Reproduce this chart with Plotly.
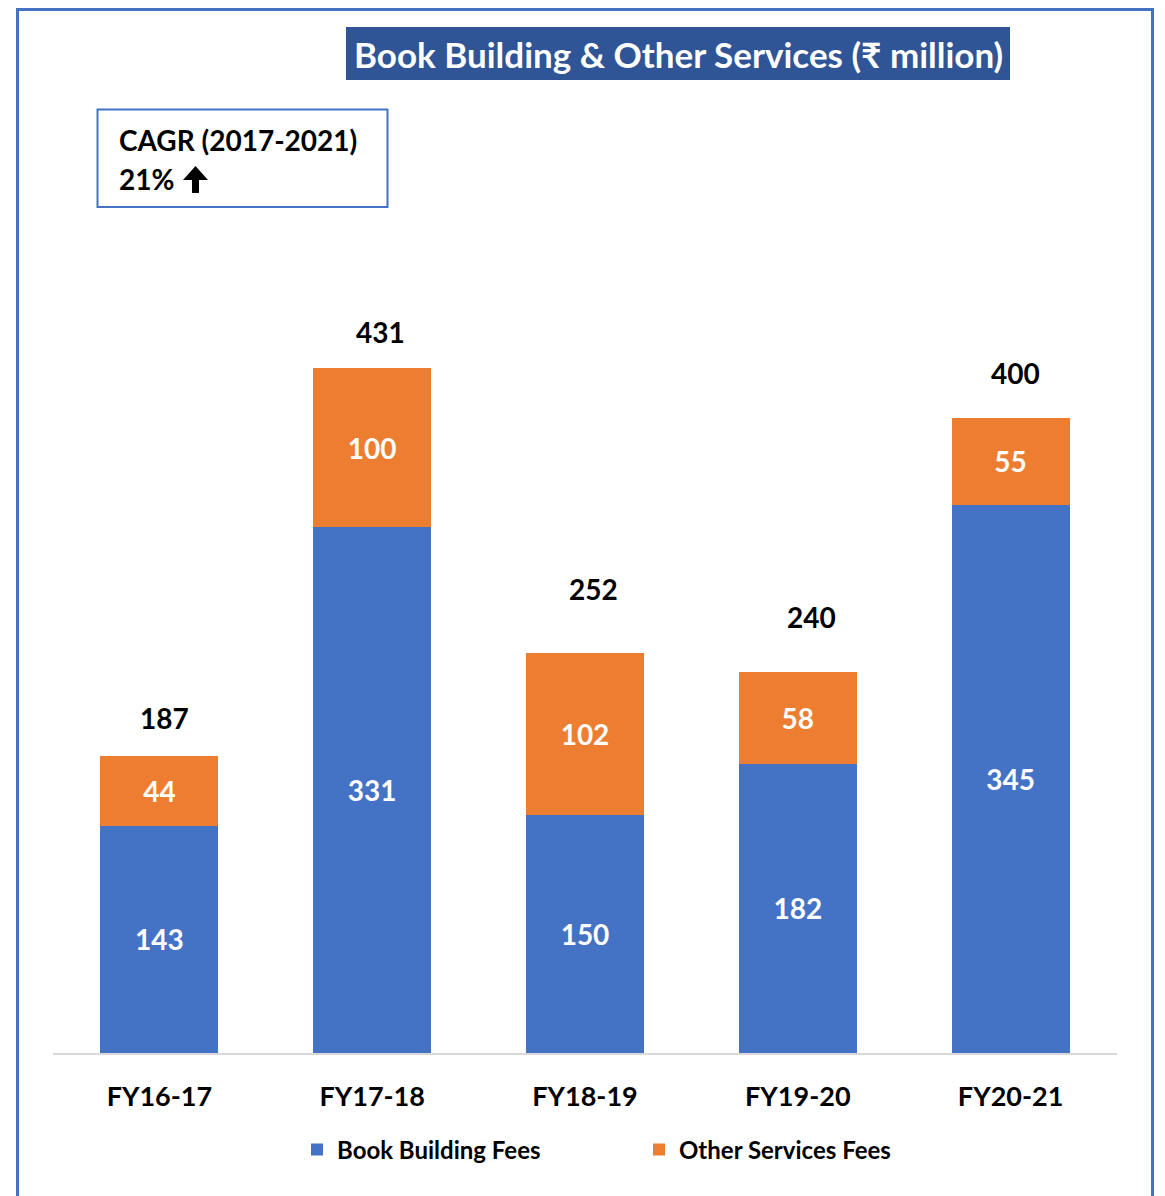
import plotly.graph_objects as go

# data (₹ million)
years = ["FY16-17", "FY17-18", "FY18-19", "FY19-20", "FY20-21"]
book_building = [143, 331, 150, 182, 345]
other_services = [44, 100, 102, 58, 55]
totals = [187, 431, 252, 240, 400]

# the total labels don't sit at a fixed distance above the stacks in the original
total_dx = [5, 8, 8, 14, 5]
total_dy = [38, 36, 64, 55, 45]

BLUE = "#4472C4"
ORANGE = "#ED7D31"
TITLE_BG = "#2F5597"
FONT = "Lato, 'Noto Sans', 'DejaVu Sans', sans-serif"

W, H = 1165, 1196
OFF = 8  # page body margin
L, R, T, B = 53 - OFF, 56, 100 - OFF, 151


# pixel position on the page -> paper coordinate (for the decorations)
def px(x):
    return (x - OFF - L) / (W - L - R)


def py(y):
    return (H - B - (y - OFF)) / (H - T - B)


fig = go.Figure()
fig.add_trace(go.Bar(
    x=years, y=book_building, name="Book Building Fees",
    marker=dict(color=BLUE, line=dict(width=0)),
    text=book_building, textposition="inside", insidetextanchor="middle",
    textfont=dict(color="white", size=28, family=FONT, weight="bold"),
))
fig.add_trace(go.Bar(
    x=years, y=other_services, name="Other Services Fees",
    marker=dict(color=ORANGE, line=dict(width=0)),
    text=other_services, textposition="inside", insidetextanchor="middle",
    textfont=dict(color="white", size=28, family=FONT, weight="bold"),
))

# totals above the stacks
for yr, tot, dx, dy in zip(years, totals, total_dx, total_dy):
    fig.add_annotation(x=yr, y=tot, text=str(tot), showarrow=False, xshift=dx, yshift=dy,
                       font=dict(size=28, color="black", family=FONT, weight="bold"))

shapes = [
    # outer frame
    dict(type="rect", xref="paper", yref="paper", x0=px(17.5), x1=px(1152.5),
         y0=py(1220), y1=py(9.5), line=dict(color=BLUE, width=3), layer="below"),
    # title box
    dict(type="rect", xref="paper", yref="paper", x0=px(346), x1=px(1010),
         y0=py(80), y1=py(27), fillcolor=TITLE_BG, line=dict(width=0)),
    # CAGR box
    dict(type="rect", xref="paper", yref="paper", x0=px(97.5), x1=px(387.5),
         y0=py(207), y1=py(109.5), fillcolor="white", line=dict(color=BLUE, width=2)),
    # up arrow
    dict(type="path", xref="paper", yref="paper", fillcolor="black", line=dict(width=0),
         path="M {} {} L {} {} L {} {} L {} {} L {} {} L {} {} L {} {} Z".format(
             px(195.5), py(166), px(208), py(180), px(199), py(180), px(199), py(193),
             px(192), py(193), px(192), py(180), px(183), py(180))),
]

annotations = [
    dict(xref="paper", yref="paper", x=px(678), y=py(54), xanchor="center",
         text="Book Building & Other Services (₹ million)",
         font=dict(size=35, color="white", family=FONT, weight="bold")),
    dict(xref="paper", yref="paper", x=px(117), y=py(140), xanchor="left",
         text="CAGR (2017-2021)", font=dict(size=28, color="black", family=FONT, weight="bold")),
    dict(xref="paper", yref="paper", x=px(117), y=py(179), xanchor="left",
         text="21%", font=dict(size=28, color="black", family=FONT, weight="bold")),
]
for a in annotations:
    fig.add_annotation(showarrow=False, yanchor="middle", **a)

fig.update_layout(
    width=W, height=H,
    margin=dict(l=L, r=R, t=T, b=B),
    barmode="stack", bargap=0.445,
    plot_bgcolor="white", paper_bgcolor="white",
    font=dict(family=FONT, color="black"),
    shapes=shapes,
    showlegend=True,
    legend=dict(orientation="h", x=px(297), xanchor="left", y=py(1150), yanchor="middle",
                traceorder="normal", entrywidth=297,
                font=dict(size=24, color="black", family=FONT, weight="bold")),
    uniformtext=dict(mode=False),
)
fig.update_xaxes(showline=True, linecolor="#D9D9D9", linewidth=2, ticks="",
                 ticklabelstandoff=19,
                 tickfont=dict(size=27, color="black", family=FONT, weight="bold"))
fig.update_yaxes(range=[0, 600], visible=False, showgrid=False)

fig.write_html("out.html")
